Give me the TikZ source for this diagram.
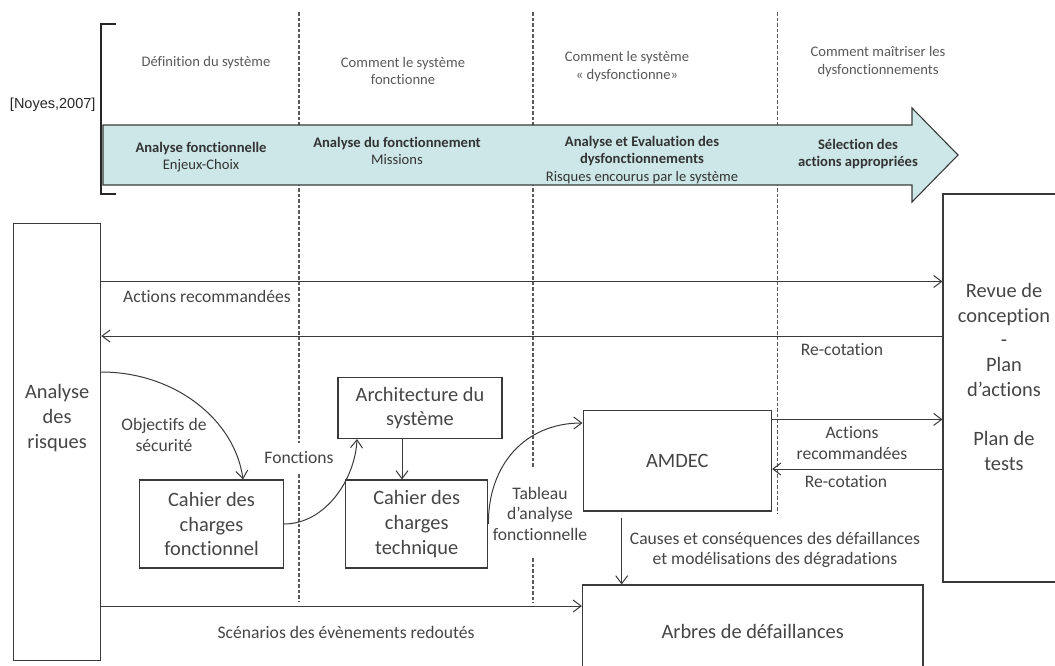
\documentclass[tikz,border=0pt]{standalone}
\usepackage{fontspec}
\setmainfont{Carlito}[Ligatures={NoCommon}]
\newfontfamily\arialf{Liberation Sans}
\usetikzlibrary{arrows.meta}
\definecolor{txt}{HTML}{454545}
\definecolor{txtl}{HTML}{595959}
\definecolor{ln}{HTML}{3A3A3A}
\definecolor{aqua}{RGB}{205,231,233}
\begin{document}
\begin{tikzpicture}[x=1pt,y=-1pt,
 boxn/.style={draw=ln, line width=1.1pt, inner sep=0pt, text=txt, align=center, font=\fontsize{20.4}{24.7}\selectfont},
 bigtxt/.style={inner sep=0pt, text=txt, align=center, font=\fontsize{20.4}{24.7}\selectfont},
 lab/.style={inner sep=0pt, text=txt, align=center, font=\fontsize{17.6}{20.5}\selectfont},
 toplab/.style={inner sep=0pt, text=txtl, align=center, font=\fontsize{14.6}{17.5}\selectfont},
 arrlab/.style={inner sep=0pt, text=black!80, align=center, font=\fontsize{14.6}{17.6}\selectfont},
 conn/.style={draw=ln, line width=1pt, -{Straight Barb[length=8pt,width=12pt]}},
 sep/.style={draw=black!65, line width=1.1pt, dash pattern=on 3.5pt off 2pt},
]
\useasboundingbox (0,0) rectangle (1055,665);
\clip (0,0) rectangle (1055,665);

% dashed phase separators
\coordinate (s1t) at (299,12); \coordinate (s1b) at (299,602);
\coordinate (s2t) at (533,12); \coordinate (s2m) at (533,468);
\coordinate (s2n) at (533,558); \coordinate (s2b) at (533,603);
\coordinate (s3t) at (777.5,12); \coordinate (s3b) at (777.5,513);
\draw[sep] (s1t) -- (s1b);
\draw[sep] (s2t) -- (s2m);
\draw[sep] (s2n) -- (s2b);
\draw[sep] (s3t) -- (s3b);

% bracket and reference
\draw[line width=1.1pt, draw=black!85] (116,24) -- (101,24) -- (101,194) -- (116,194);
\node[inner sep=0pt, font=\arialf\fontsize{14.5}{17}\selectfont, text=black!85] (noyes) at (52.7,104.8) {[Noyes,2007]};

% big process arrow
\draw[fill=aqua, draw=ln, line width=1.1pt, line join=miter]
  (103,125) -- (912,125) -- (912,108) -- (958,155) -- (912,202) -- (912,185) -- (103,185) -- cycle;
\node[arrlab] (a1) at (201,157) {\textbf{Analyse fonctionnelle}\\Enjeux-Choix};
\node[arrlab] (a2) at (397,151) {\textbf{Analyse du fonctionnement}\\Missions};
\node[arrlab] (a3) at (642,160) {\textbf{Analyse et Evaluation des}\\\textbf{dysfonctionnements}\\Risques encourus par le système};
\node[arrlab] (a4) at (858,154) {\textbf{Sélection des}\\\textbf{actions appropriées}};

% phase titles
\node[toplab] (t1) at (206,62.5) {Définition du système};
\node[toplab] (t2) at (403,71) {Comment le système\\fonctionne};
\node[toplab] (t3) at (627,66.5) {Comment le système\\« dysfonctionne»};
\node[toplab] (t4) at (878,61.5) {Comment maîtriser les\\dysfonctionnements};

% boxes
\node[boxn, minimum width=87.2pt, minimum height=436.3pt] (lbox) at (57.1,441.9) {};
\node[bigtxt] (lboxt) at (57.1,418) {Analyse\\des\\risques};
\node[boxn, minimum width=122pt, minimum height=388pt] (rbox) at (1004,388) {};
\node[bigtxt] (rboxt) at (1004,377) {Revue de\\conception\\-\\Plan\\d’actions\\[24.7pt]Plan de\\tests};
\node[boxn, minimum width=143.7pt, minimum height=88pt] (fonct) at (211.5,524) {Cahier des\\charges\\fonctionnel};
\node[boxn, minimum width=142.3pt, minimum height=88pt] (tech) at (416.7,524) {Cahier des\\charges\\technique};
\node[boxn, minimum width=164pt, minimum height=61pt] (arch) at (420,408) {Architecture du\\système};
\node[boxn, minimum width=188.5pt, minimum height=100.5pt] (amdec) at (677.3,460.7) {AMDEC};
\node[boxn, minimum width=340.5pt, minimum height=92pt] (arbres) at (752.7,631) {Arbres de défaillances};

% connectors
\coordinate (y1) at (0,281.5);
\coordinate (y2) at (0,336);
\coordinate (y3) at (0,419.4);
\coordinate (y4) at (0,469);
\coordinate (y5) at (0,606);
\coordinate (y6) at (0,372);
\coordinate (y7) at (0,423);
\coordinate (x1) at (402,0);
\coordinate (x2) at (621.7,0);
\coordinate (x3) at (243,0);
\coordinate (x4) at (357,0);
\draw[conn] (lbox.east |- y1) -- (rbox.west |- y1);
\draw[conn] (rbox.west |- y2) -- (lbox.east |- y2);
\draw[conn] (amdec.east |- y3) -- (rbox.west |- y3);
\draw[conn] (rbox.west |- y4) -- (amdec.east |- y4);
\draw[conn] (lbox.east |- y5) -- (arbres.west |- y5);
\draw[conn] (arch.south -| x1) -- (tech.north -| x1);
\draw[conn, shorten <=6pt] (amdec.south -| x2) -- (arbres.north -| x2);
\draw[conn] (lbox.east |- y6) .. controls (175,372) and (235,420) .. (fonct.north -| x3);
\draw[conn] (fonct.east) .. controls (325,524) and (355,480) .. (arch.south -| x4);
\draw[conn] (tech.east) .. controls (488,465) and (525,423) .. (amdec.west |- y7);

% labels
\node[lab] (l1) at (207,296) {Actions recommandées};
\node[lab] (l2) at (842,350) {Re-cotation};
\node[lab] (l3) at (164,435) {Objectifs de\\sécurité};
\node[lab, fill=white, inner xsep=2pt, inner ysep=9pt] (l4) at (299,457.7) {Fonctions};
\node[lab] (l5) at (540,513.5) {Tableau\\d’analyse\\fonctionnelle};
\node[lab] (l6) at (852,443) {Actions\\recommandées};
\node[lab] (l7) at (846,482) {Re-cotation};
\node[lab] (l8) at (775,550) {Causes et conséquences des défaillances\\et modélisations des dégradations};
\node[lab] (l9) at (346,632) {Scénarios des évènements redoutés};
\end{tikzpicture}
\end{document}
